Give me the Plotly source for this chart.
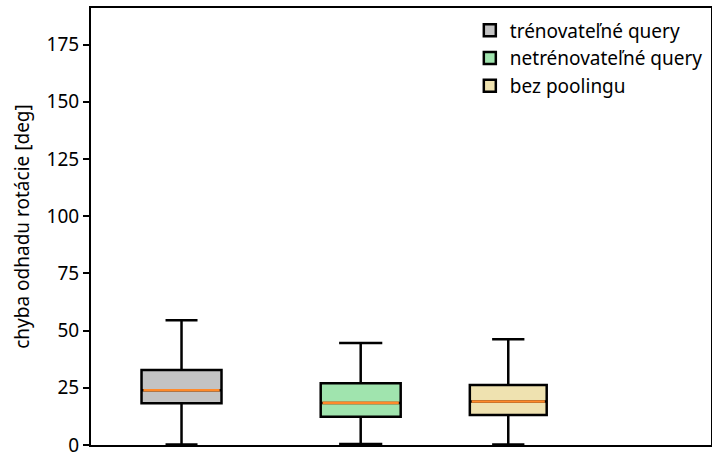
import plotly.graph_objects as go

names = ["trénovateľné query", "netrénovateľné query", "bez poolingu"]
positions = [0.146, 0.435, 0.673]
lower = [0.2, 0.4, 0.2]
q1 = [18.2, 12.4, 13.1]
median = [23.9, 18.4, 19.0]
q3 = [32.8, 27.0, 26.2]
upper = [54.5, 44.6, 46.2]
fills = ["#c3c3c3", "#a0e4ae", "#efe2b0"]
box_w = [0.129, 0.129, 0.124]
whisker_w = [0.40, 0.54, 0.42]
y_ticks = [0, 25, 50, 75, 100, 125, 150, 175]

FONT = "Noto Sans"
fig = go.Figure()
for i in range(3):
    fig.add_trace(go.Box(
        x=[positions[i]], q1=[q1[i]], median=[median[i]], q3=[q3[i]],
        lowerfence=[lower[i]], upperfence=[upper[i]],
        name=names[i], fillcolor=fills[i],
        line=dict(color="black", width=2.5),
        width=box_w[i], whiskerwidth=whisker_w[i],
        boxpoints=False, hoverinfo="skip",
    ))
for i in range(3):
    fig.add_trace(go.Scatter(
        x=[positions[i] - box_w[i] / 2 + 0.003, positions[i] + box_w[i] / 2 - 0.003],
        y=[median[i], median[i]], mode="lines",
        line=dict(color="#ff8a2a", width=2.6), showlegend=False, hoverinfo="skip",
    ))

fig.update_layout(
    width=712, height=452,
    margin=dict(l=91, r=1, t=8, b=7, autoexpand=False),
    plot_bgcolor="white", paper_bgcolor="white",
    font=dict(family=FONT, color="black", size=19),
    showlegend=True,
    legend=dict(x=0.611, y=0.992, xanchor="left", yanchor="top",
                font=dict(family=FONT, size=19, color="black"),
                bgcolor="rgba(0,0,0,0)", tracegroupgap=0, itemwidth=30),
)
fig.update_xaxes(range=[0, 1], showticklabels=False, ticks="", showgrid=False,
                 zeroline=False, showline=True, linecolor="black", linewidth=2,
                 mirror=True, automargin=False)
fig.update_yaxes(range=[0, 191], tickvals=y_ticks, ticks="outside", ticklen=6,
                 tickwidth=1.5, tickcolor="black", showgrid=False, zeroline=False,
                 showline=True, linecolor="black", linewidth=2, mirror=True,
                 ticklabeloverflow="allow", automargin=False,
                 tickfont=dict(family=FONT, size=19),
                 title=dict(text="chyba odhadu rotácie [deg]", standoff=12,
                            font=dict(family=FONT, size=19)))
fig.write_html("out.html", config={"displayModeBar": False},
               post_script="document.body.style.margin='0';")
